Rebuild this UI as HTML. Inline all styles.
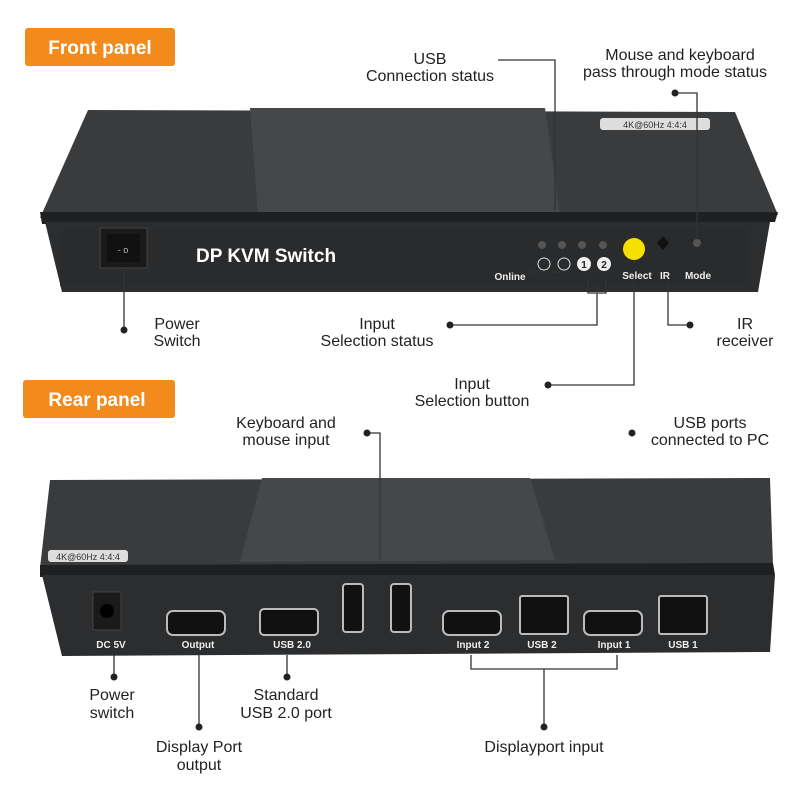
<!DOCTYPE html>
<html><head><style>
body{margin:0;background:#fff}
svg{display:block}
text{font-family:"Liberation Sans",Arial,sans-serif}
.l{font-size:16px;fill:#222;text-anchor:middle}
.w{fill:#eee;font-weight:bold;font-size:10px;text-anchor:middle}
.ln{stroke:#333;stroke-width:1.3;fill:none}
</style></head><body>
<svg width="800" height="800" viewBox="0 0 800 800">
<rect width="800" height="800" fill="#fff"/>
<rect x="25" y="28" width="150" height="38" rx="3" fill="#f38a1c"/>
<text x="100" y="54" fill="#fff" font-size="19" font-weight="bold" text-anchor="middle">Front panel</text>
<rect x="23" y="380" width="152" height="38" rx="3" fill="#f38a1c"/>
<text x="97" y="406" fill="#fff" font-size="19" font-weight="bold" text-anchor="middle">Rear panel</text>

<polygon points="88,110 735,112 778,215 40,218" fill="#3a3b3d"/>
<polygon points="250,108 545,108 560,214 258,215" fill="#464749"/>
<polygon points="40,212 778,212 775,222 42,224" fill="#1f2022"/>
<polygon points="45,222 770,222 758,292 62,292" fill="#2c2d2f"/>
<rect x="60" y="230" width="690" height="56" fill="#2a2b2d"/>
<rect x="600" y="118" width="110" height="12" rx="3" fill="#ddd"/>
<text x="655" y="128" font-size="9" fill="#333" text-anchor="middle">4K@60Hz 4:4:4</text>
<rect x="100" y="228" width="47" height="40" fill="#1a1a1a" stroke="#444"/>
<rect x="107" y="234" width="33" height="28" fill="#111"/>
<text x="123" y="253" fill="#bbb" font-size="9" text-anchor="middle">- o</text>
<text x="196" y="262" fill="#fff" font-size="19" font-weight="bold">DP KVM Switch</text>
<g fill="#555"><circle cx="542" cy="245" r="4"/><circle cx="562" cy="245" r="4"/><circle cx="582" cy="245" r="4"/><circle cx="603" cy="245" r="4"/><circle cx="697" cy="243" r="4"/></g>
<circle cx="544" cy="264" r="6" fill="none" stroke="#ddd"/><circle cx="564" cy="264" r="6" fill="none" stroke="#ddd"/>
<circle cx="584" cy="264" r="7" fill="#eee"/><circle cx="604" cy="264" r="7" fill="#eee"/>
<text x="584" y="268" font-size="10" font-weight="bold" text-anchor="middle" fill="#222">1</text>
<text x="604" y="268" font-size="10" font-weight="bold" text-anchor="middle" fill="#222">2</text>
<circle cx="634" cy="249" r="11" fill="#f5e000"/>
<polygon points="663,236 669,243 663,250 657,243" fill="#111"/>
<text class="w" x="510" y="280">Online</text>
<text class="w" x="637" y="279">Select</text>
<text class="w" x="665" y="279">IR</text>
<text class="w" x="698" y="279">Mode</text>

<polygon points="50,480 770,478 773,565 40,568" fill="#3a3b3d"/>
<polygon points="262,478 530,478 555,560 240,562" fill="#464749"/>
<polygon points="40,565 773,563 775,575 40,577" fill="#1f2022"/>
<polygon points="42,575 775,575 770,652 62,656" fill="#2c2d2f"/>
<rect x="48" y="550" width="80" height="12" rx="3" fill="#ddd"/>
<text x="88" y="560" font-size="9" fill="#333" text-anchor="middle">4K@60Hz 4:4:4</text>
<rect x="93" y="592" width="28" height="38" fill="#1a1a1a" stroke="#444"/><circle cx="107" cy="611" r="7" fill="#000"/>
<g fill="#111" stroke="#bbb" stroke-width="2">
<rect x="167" y="611" width="58" height="24" rx="6"/>
<rect x="260" y="609" width="58" height="26" rx="4"/>
<rect x="443" y="611" width="58" height="24" rx="6"/>
<rect x="584" y="611" width="58" height="24" rx="6"/>
<rect x="520" y="596" width="48" height="38" rx="2"/>
<rect x="659" y="596" width="48" height="38" rx="2"/>
<rect x="343" y="584" width="20" height="48" rx="3"/>
<rect x="391" y="584" width="20" height="48" rx="3"/>
</g>
<text class="w" x="111" y="648">DC 5V</text>
<text class="w" x="198" y="648">Output</text>
<text class="w" x="292" y="648">USB 2.0</text>
<text class="w" x="473" y="648">Input 2</text>
<text class="w" x="542" y="648">USB 2</text>
<text class="w" x="614" y="648">Input 1</text>
<text class="w" x="683" y="648">USB 1</text>

<g class="ln">
<path d="M498,60 H555 V210"/>
<path d="M675,93 H697 V238"/>
<path d="M124,270 V330"/>
<path d="M530,272 H540 V270 M560,270 V272 H548"/>
<path d="M588,278 V293 H606 V278 M597,293 V325 H450"/>
<path d="M634,282 V385 H548"/>
<path d="M668,282 V325 H690"/>
<path d="M367,433 H380 V560"/>
<path d="M114,655 V677"/>
<path d="M199,655 V727"/>
<path d="M287,655 V677"/>
<path d="M471,655 V669 H617 V655 M544,669 V727"/>
</g>
<g fill="#222">
<circle cx="675" cy="93" r="3.5"/><circle cx="124" cy="330" r="3.5"/><circle cx="450" cy="325" r="3.5"/>
<circle cx="548" cy="385" r="3.5"/><circle cx="690" cy="325" r="3.5"/><circle cx="367" cy="433" r="3.5"/>
<circle cx="632" cy="433" r="3.5"/><circle cx="114" cy="677" r="3.5"/><circle cx="199" cy="727" r="3.5"/>
<circle cx="287" cy="677" r="3.5"/><circle cx="544" cy="727" r="3.5"/>
</g>

<text class="l" x="430" y="64">USB</text>
<text class="l" x="430" y="81">Connection status</text>
<text class="l" x="680" y="60">Mouse and keyboard</text>
<text class="l" x="675" y="77">pass through mode status</text>
<text class="l" x="177" y="329">Power</text>
<text class="l" x="177" y="346">Switch</text>
<text class="l" x="377" y="329">Input</text>
<text class="l" x="377" y="346">Selection status</text>
<text class="l" x="745" y="329">IR</text>
<text class="l" x="745" y="346">receiver</text>
<text class="l" x="472" y="389">Input</text>
<text class="l" x="472" y="406">Selection button</text>
<text class="l" x="286" y="428">Keyboard and</text>
<text class="l" x="286" y="445">mouse input</text>
<text class="l" x="710" y="428">USB ports</text>
<text class="l" x="710" y="445">connected to PC</text>
<text class="l" x="112" y="700">Power</text>
<text class="l" x="112" y="718">switch</text>
<text class="l" x="286" y="700">Standard</text>
<text class="l" x="286" y="718">USB 2.0 port</text>
<text class="l" x="199" y="752">Display Port</text>
<text class="l" x="199" y="770">output</text>
<text class="l" x="544" y="752">Displayport input</text>
</svg>
</body></html>
